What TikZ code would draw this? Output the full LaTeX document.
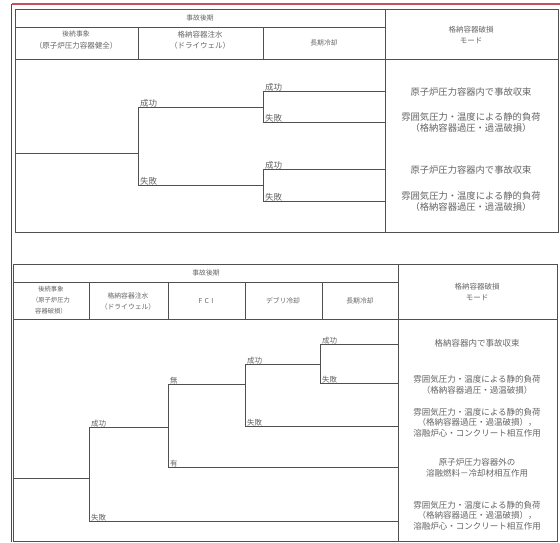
\documentclass[tikz,border=0pt]{standalone}
\usepackage{fontspec}
\newfontfamily\jp{Noto Sans CJK JP}
\definecolor{ln}{RGB}{80,80,80}
\definecolor{tx}{RGB}{100,100,100}
\definecolor{rd}{RGB}{200,80,95}
\definecolor{rdd}{RGB}{165,35,50}
\tikzset{
  tbl/.style={draw=ln, line width=0.9pt},
  br/.style={draw=ln, line width=1pt},
  lab/.style={anchor=south west, inner sep=1pt, text=tx, font=\jp\fontsize{8.5}{10}\selectfont},
  labs/.style={anchor=south west, inner sep=1pt, text=tx, font=\jp\fontsize{7.5}{9}\selectfont},
  mode/.style={align=center, inner sep=0pt, text=tx, font=\jp\fontsize{9.3}{11}\selectfont},
  modes/.style={align=center, inner sep=0pt, text=tx, font=\jp\fontsize{8.5}{10.5}\selectfont},
  hd/.style={align=center, inner sep=0pt, text=tx, font=\jp\fontsize{7.5}{11.5}\selectfont},
  hds/.style={align=center, inner sep=0pt, text=tx, font=\jp\fontsize{6.8}{11}\selectfont},
}
\begin{document}
\begin{tikzpicture}[x=1pt,y=-1pt]
\useasboundingbox (0,0) rectangle (560,542);
% red frame
\draw[rd, line width=1.2pt] (11.5,4) -- (560,4);
\draw[rdd, line width=1.5pt] (11.5,4) -- (11.5,542);

% ===== top table =====
\draw[tbl] (15,9) rectangle (558,232);
\draw[tbl] (15,27) -- (385,27);
\draw[tbl] (15,59) -- (558,59);
\draw[tbl] (138,27) -- (138,59);
\draw[tbl] (263,27) -- (263,59);
\draw[tbl] (385,9) -- (385,232);

\node[hds] (h1) at (200,18) {事故後期};
\node[hd] (h2) at (76,40) {{\fontsize{6.8}{11}\selectfont 後続事象}\\（原子炉圧力容器健全）};
\node[hd] (h3) at (200,40) {格納容器注水\\（ドライウェル）};
\node[hds] (h4) at (324,43) {長期冷却};
\node[hd] (h5) at (471,35) {格納容器破損\\モード};

% tree
\coordinate (a0) at (15,153);
\coordinate (a1) at (138,153);
\coordinate (b1) at (138,107);
\coordinate (b2) at (138,185);
\coordinate (c1) at (263,107);
\coordinate (c2) at (263,185);
\coordinate (d1) at (263,91);
\coordinate (d2) at (263,122);
\coordinate (d3) at (263,169);
\coordinate (d4) at (263,201);
\coordinate (e1) at (385,91);
\coordinate (e2) at (385,122);
\coordinate (e3) at (385,169);
\coordinate (e4) at (385,201);
\draw[br] (a0) -- (a1);
\draw[br] (b1) -- (b2);
\draw[br] (b1) -- (c1);
\draw[br] (b2) -- (c2);
\draw[br] (d1) -- (d2);
\draw[br] (d3) -- (d4);
\draw[br] (d1) -- (e1);
\draw[br] (d2) -- (e2);
\draw[br] (d3) -- (e3);
\draw[br] (d4) -- (e4);
\node[lab] (l1) at ([xshift=1pt,yshift=-1pt]b1) {成功};
\node[lab] (l2) at ([xshift=1pt,yshift=-1pt]b2) {失敗};
\node[lab] (l3) at ([xshift=1pt,yshift=-1pt]d1) {成功};
\node[lab] (l4) at ([xshift=1pt,yshift=-1pt]d2) {失敗};
\node[lab] (l5) at ([xshift=1pt,yshift=-1pt]d3) {成功};
\node[lab] (l6) at ([xshift=1pt,yshift=-1pt]d4) {失敗};

\node[mode] (m1) at (471,92) {原子炉圧力容器内で事故収束};
\node[mode] (m2) at (471,123) {雰囲気圧力・温度による静的負荷\\（格納容器過圧・過温破損）};
\node[mode] (m3) at (471,170) {原子炉圧力容器内で事故収束};
\node[mode] (m4) at (471,202) {雰囲気圧力・温度による静的負荷\\（格納容器過圧・過温破損）};

% ===== bottom table =====
\draw[tbl] (13,264) rectangle (557,541);
\draw[tbl] (13,282) -- (398,282);
\draw[tbl] (13,319) -- (557,319);
\draw[tbl] (89,282) -- (89,319);
\draw[tbl] (168,282) -- (168,319);
\draw[tbl] (245,282) -- (245,319);
\draw[tbl] (322,282) -- (322,319);
\draw[tbl] (398,264) -- (398,541);

\node[hds] (k1) at (206,273) {事故後期};
\node[hds, font=\jp\fontsize{6.3}{11}\selectfont] (k2) at (51,300) {後続事象\\（原子炉圧力\\容器破損）};
\node[hds] (k3) at (128,301) {格納容器注水\\（ドライウェル）};
\node[hds] (k4) at (206,301) {F\,\,C\,\,I};
\node[hds] (k5) at (283,301) {デブリ冷却};
\node[hds] (k6) at (360,301) {長期冷却};
\node[hd, font=\jp\fontsize{7.5}{11}\selectfont] (k7) at (477,292) {格納容器破損\\モード};

% tree
\coordinate (p0) at (13,478);
\coordinate (p1) at (89,478);
\coordinate (q1) at (89,427);
\coordinate (q2) at (89,521);
\coordinate (r1) at (168,427);
\coordinate (r2) at (398,521);
\coordinate (s1) at (168,384);
\coordinate (s2) at (168,467);
\coordinate (t1) at (245,384);
\coordinate (t2) at (398,467);
\coordinate (u1) at (245,364);
\coordinate (u2) at (245,426);
\coordinate (v1) at (320,364);
\coordinate (v2) at (398,426);
\coordinate (w1) at (320,344);
\coordinate (w2) at (320,383);
\coordinate (x1) at (398,344);
\coordinate (x2) at (398,383);
\draw[br] (p0) -- (p1);
\draw[br] (q1) -- (q2);
\draw[br] (q1) -- (r1);
\draw[br] (q2) -- (r2);
\draw[br] (s1) -- (s2);
\draw[br] (s1) -- (t1);
\draw[br] (s2) -- (t2);
\draw[br] (u1) -- (u2);
\draw[br] (u1) -- (v1);
\draw[br] (u2) -- (v2);
\draw[br] (w1) -- (w2);
\draw[br] (w1) -- (x1);
\draw[br] (w2) -- (x2);
\node[labs] (n1) at ([xshift=1pt,yshift=-1pt]q1) {成功};
\node[labs] (n2) at ([xshift=1pt,yshift=-1pt]q2) {失敗};
\node[labs] (n3) at ([xshift=1pt,yshift=-1pt]s1) {無};
\node[labs] (n4) at ([xshift=1pt,yshift=-1pt]s2) {有};
\node[labs] (n5) at ([xshift=1pt,yshift=-1pt]u1) {成功};
\node[labs] (n6) at ([xshift=1pt,yshift=-1pt]u2) {失敗};
\node[labs] (n7) at ([xshift=1pt,yshift=-1pt]w1) {成功};
\node[labs] (n8) at ([xshift=1pt,yshift=-1pt]w2) {失敗};

\node[modes] (o1) at (477,343) {格納容器内で事故収束};
\node[modes] (o2) at (477,385) {雰囲気圧力・温度による静的負荷\\（格納容器過圧・過温破損）};
\node[modes] (o3) at (477,422.5) {雰囲気圧力・温度による静的負荷\\（格納容器過圧・過温破損），\\溶融炉心・コンクリート相互作用};
\node[modes] (o4) at (477,468) {原子炉圧力容器外の\\溶融燃料－冷却材相互作用};
\node[modes] (o5) at (477,515.5) {雰囲気圧力・温度による静的負荷\\（格納容器過圧・過温破損），\\溶融炉心・コンクリート相互作用};
\end{tikzpicture}
\end{document}
